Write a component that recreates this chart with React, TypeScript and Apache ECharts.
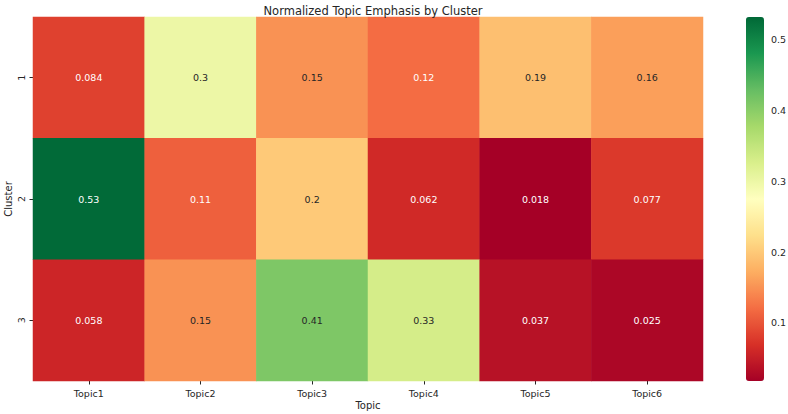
import React, { useEffect, useRef } from "react";
import * as echarts from "echarts";

const topics = ["Topic1", "Topic2", "Topic3", "Topic4", "Topic5", "Topic6"];
const clusters = ["1", "2", "3"];
const cluster1 = [0.084, 0.3, 0.15, 0.12, 0.19, 0.16];
const cluster2 = [0.53, 0.11, 0.2, 0.062, 0.018, 0.077];
const cluster3 = [0.058, 0.15, 0.41, 0.33, 0.037, 0.025];
const colorbarTicks = [0.1, 0.2, 0.3, 0.4, 0.5];
const vMin = 0.018;
const vMax = 0.532;

const rdYlGn = [
  "#a50026", "#d73027", "#f46d43", "#fdae61", "#fee08b", "#ffffbf",
  "#d9ef8b", "#a6d96a", "#66bd63", "#1a9850", "#006837",
];

const FONT = "DejaVu Sans";
const TEXT = "#262626";

function hexToRgb(h: string) {
  return [1, 3, 5].map((i) => parseInt(h.slice(i, i + 2), 16));
}

function colorAt(v: number) {
  let t = (v - vMin) / (vMax - vMin);
  t = Math.max(0, Math.min(1, t));
  const pos = t * (rdYlGn.length - 1);
  const i = Math.min(Math.floor(pos), rdYlGn.length - 2);
  const f = pos - i;
  const a = hexToRgb(rdYlGn[i]);
  const b = hexToRgb(rdYlGn[i + 1]);
  return a.map((c, k) => c + (b[k] - c) * f);
}

function luminance(rgb: number[]) {
  const lin = rgb.map((c) => {
    const s = c / 255;
    return s <= 0.03928 ? s / 12.92 : Math.pow((s + 0.055) / 1.055, 2.4);
  });
  return 0.2126 * lin[0] + 0.7152 * lin[1] + 0.0722 * lin[2];
}

function fmt(v: number) {
  return String(Number(v.toPrecision(2)));
}

export default function App() {
  const ref = useRef<HTMLDivElement>(null);
  useEffect(() => {
    if (!ref.current) return;
    const chart = echarts.init(ref.current, undefined, { renderer: "svg" });
    const rows = [cluster1, cluster2, cluster3];
    const data: any[] = [];
    rows.forEach((row, y) => {
      row.forEach((v, x) => {
        const dark = luminance(colorAt(v)) > 0.408;
        data.push({
          value: [x, y, v],
          label: { color: dark ? TEXT : "#ffffff" },
        });
      });
    });

    chart.setOption({
      animation: false,
      backgroundColor: "#ffffff",
      textStyle: { fontFamily: FONT },
      title: {
        text: "Normalized Topic Emphasis by Cluster",
        left: 368,
        textAlign: "center",
        top: 0,
        textStyle: { fontFamily: FONT, fontSize: 11.5, fontWeight: "normal", color: TEXT },
      },
      grid: [
        { left: 33, top: 17, width: 670, height: 364, containLabel: false, outerBoundsMode: "none" },
        { left: 746, top: 17, width: 18, height: 364, show: false, containLabel: false, outerBoundsMode: "none" },
      ],
      xAxis: [
        {
          type: "category",
          data: topics,
          gridIndex: 0,
          position: "bottom",
          name: "Topic",
          nameLocation: "middle",
          nameGap: 19,
          nameMoveOverlap: false,
          nameTextStyle: { fontFamily: FONT, fontSize: 10, color: TEXT },
          axisLine: { show: false },
          axisTick: { show: true, alignWithLabel: true, length: 3.5, lineStyle: { color: TEXT } },
          axisLabel: { fontFamily: FONT, fontSize: 9.5, color: TEXT, margin: 7 },
          splitLine: { show: false },
          splitArea: { show: false },
        },
        { type: "value", gridIndex: 1, show: false, min: 0, max: 1 },
      ],
      yAxis: [
        {
          type: "category",
          data: clusters,
          gridIndex: 0,
          inverse: true,
          name: "Cluster",
          nameLocation: "middle",
          nameGap: 20,
          nameMoveOverlap: false,
          nameRotate: 90,
          nameTextStyle: { fontFamily: FONT, fontSize: 10, color: TEXT },
          axisLine: { show: false },
          axisTick: { show: true, alignWithLabel: true, length: 3.5, lineStyle: { color: TEXT } },
          axisLabel: { fontFamily: FONT, fontSize: 9.5, color: TEXT, rotate: 90, margin: 7 },
          splitLine: { show: false },
          splitArea: { show: false },
        },
        {
          type: "value",
          gridIndex: 1,
          position: "right",
          min: vMin,
          max: vMax,
          axisLine: { show: false },
          splitLine: { show: false },
          axisTick: {
            show: true,
            length: 3.5,
            customValues: colorbarTicks,
            lineStyle: { color: TEXT },
          },
          axisLabel: {
            show: true,
            customValues: colorbarTicks,
            fontFamily: FONT,
            fontSize: 9.5,
            color: TEXT,
            margin: 7,
            formatter: (v: number) => String(Number(v.toFixed(2))),
          },
        },
      ],
      visualMap: {
        type: "continuous",
        min: vMin,
        max: vMax,
        seriesIndex: 0,
        show: true,
        calculable: false,
        hoverLink: false,
        orient: "vertical",
        left: 746,
        top: 17,
        padding: 0,
        itemWidth: 18,
        itemHeight: 364,
        inRange: { color: rdYlGn },
      },
      series: [
        {
          type: "heatmap",
          xAxisIndex: 0,
          yAxisIndex: 0,
          data,
          label: {
            show: true,
            fontFamily: FONT,
            fontSize: 9.5,
            formatter: (p: any) => fmt(p.value[2]),
          },
          itemStyle: { borderWidth: 0 },
          emphasis: { disabled: true },
        },
        {
          type: "scatter",
          xAxisIndex: 1,
          yAxisIndex: 1,
          data: [],
        },
      ],
    });
    return () => chart.dispose();
  }, []);
  return (
    <div
      ref={ref}
      style={{ position: "fixed", left: 0, top: 0, width: 788, height: 414 }}
    />
  );
}
